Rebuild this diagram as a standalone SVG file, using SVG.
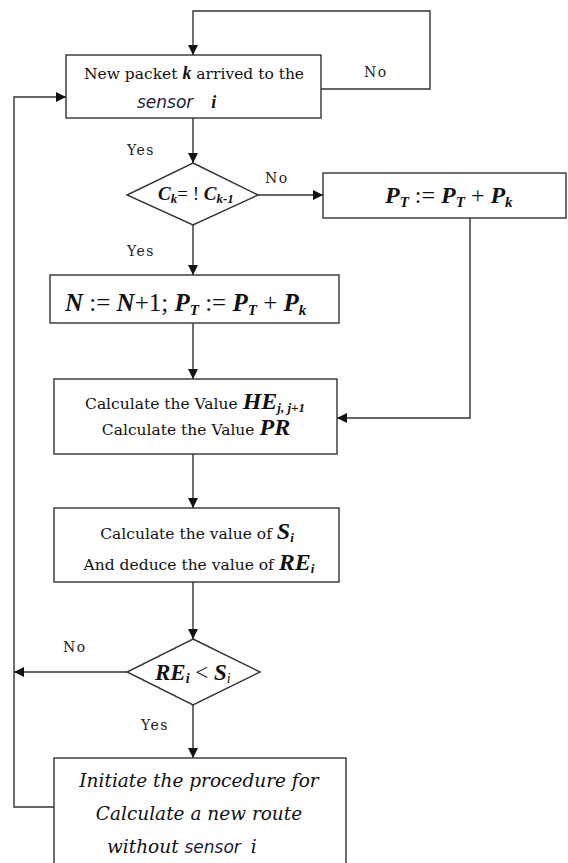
<svg xmlns="http://www.w3.org/2000/svg" width="568" height="863" viewBox="0 0 568 863">
<style>
.box{fill:#fff;stroke:#333;stroke-width:1.4}
.c{fill:none;stroke:#333;stroke-width:1.4;marker-end:url(#ah)}
.t{font-family:"DejaVu Serif","Liberation Serif",serif;font-size:15.5px;fill:#111}
.lab{font-family:"DejaVu Serif","Liberation Serif",serif;font-size:14px;fill:#222;letter-spacing:1.5px}
.m{font-family:"Liberation Serif",serif;font-style:italic;font-weight:bold;fill:#111}
.it{font-family:"DejaVu Serif","Liberation Serif",serif;font-style:italic;font-size:18.5px;fill:#111}
.sn{font-family:"DejaVu Sans",sans-serif;font-style:italic;font-size:17px;fill:#1a1a40}
</style>
<defs>
<marker id="ah" viewBox="0 0 10 10" refX="10" refY="5" markerWidth="10" markerHeight="10" markerUnits="userSpaceOnUse" orient="auto">
<path d="M0,0 L10,5 L0,10 z" fill="#111"/>
</marker>
</defs>
<g id="connectors">
<polyline class="c" points="321,89 430,89 430,11 193,11 193,55"/>
<line class="c" x1="193" y1="118" x2="193" y2="163"/>
<line class="c" x1="258" y1="195" x2="323" y2="195"/>
<line class="c" x1="193" y1="225" x2="193" y2="275"/>
<line class="c" x1="193" y1="323" x2="193" y2="379"/>
<polyline class="c" points="470,218 470,418 337,418"/>
<line class="c" x1="193" y1="454" x2="193" y2="508"/>
<line class="c" x1="193" y1="582" x2="193" y2="639"/>
<line class="c" x1="127" y1="672" x2="14" y2="672"/>
<line class="c" x1="193" y1="705" x2="193" y2="758"/>
<polyline class="c" points="54,807 14,807 14,97 66,97"/>
<text class="lab" x="364" y="77">No</text>
<text class="lab" x="127" y="155">Yes</text>
<text class="lab" x="265" y="183">No</text>
<text class="lab" x="127" y="256">Yes</text>
<text class="lab" x="63" y="652">No</text>
<text class="lab" x="141" y="730">Yes</text>
</g>
<g id="start">
<rect class="box" x="66" y="55" width="255" height="63"/>
<text class="t" x="194" y="79" text-anchor="middle">New packet <tspan class="m" font-size="18">k</tspan> arrived to the</text>
<text x="137" y="108"><tspan class="sn">sensor</tspan><tspan class="m" font-size="18" dx="18">i</tspan></text>
</g>
<g id="cond1">
<polygon class="box" points="193,163 258,195 193,225 127,195"/>
<text class="m" x="158" y="200" font-size="19">C<tspan font-size="13" dy="3">k</tspan><tspan dy="-3" font-weight="normal" font-style="normal">= ! </tspan>C<tspan font-size="13" dy="3">k-1</tspan></text>
</g>
<g id="pt">
<rect class="box" x="323" y="173" width="243" height="45"/>
<text class="m" x="385" y="203" font-size="24">P<tspan font-size="15" dy="4">T</tspan><tspan dy="-4" font-weight="normal" font-style="normal"> := </tspan>P<tspan font-size="15" dy="4">T</tspan><tspan dy="-4" font-weight="normal" font-style="normal"> + </tspan>P<tspan font-size="15" dy="4">k</tspan></text>
</g>
<g id="update">
<rect class="box" x="50" y="275" width="289" height="48"/>
<text class="m" x="65" y="311" font-size="25">N<tspan font-weight="normal" font-style="normal"> :=  </tspan>N<tspan font-weight="normal" font-style="normal">+1; </tspan>P<tspan font-size="15" dy="4">T</tspan><tspan dy="-4" font-weight="normal" font-style="normal"> := </tspan>P<tspan font-size="15" dy="4">T</tspan><tspan dy="-4" font-weight="normal" font-style="normal"> + </tspan>P<tspan font-size="15" dy="4">k</tspan></text>
</g>
<g id="calc">
<rect class="box" x="54" y="379" width="283" height="75"/>
<text class="t" x="195" y="409" text-anchor="middle">Calculate the Value <tspan class="m" font-size="24">HE</tspan><tspan class="m" font-size="13" font-weight="normal" dy="3">j, j+1</tspan></text>
<text class="t" x="196" y="435" text-anchor="middle">Calculate the Value <tspan class="m" font-size="24">PR</tspan></text>
</g>
<g id="values">
<rect class="box" x="54" y="508" width="285" height="74"/>
<text class="t" x="197" y="539" text-anchor="middle">Calculate the value of <tspan class="m" font-size="24">S</tspan><tspan class="m" font-size="13" font-weight="normal" dy="3">i</tspan></text>
<text class="t" x="199" y="570" text-anchor="middle">And deduce the value of  <tspan class="m" font-size="24">RE</tspan><tspan class="m" font-size="13" dy="3">i</tspan></text>
</g>
<g id="cond2">
<polygon class="box" points="193,639 260,672 193,705 127,672"/>
<text class="m" x="155" y="680" font-size="23">RE<tspan font-size="14" dy="3">i</tspan><tspan dy="-3" font-weight="normal" font-style="normal"> &lt; </tspan>S<tspan font-size="14" dy="3" font-weight="normal">i</tspan></text>
</g>
<g id="reroute">
<rect class="box" x="54" y="758" width="292" height="110"/>
<text class="it" x="199" y="787" text-anchor="middle">Initiate the procedure for</text>
<text class="it" x="199" y="820" text-anchor="middle">Calculate a new route</text>
<text x="107" y="853"><tspan class="it">without </tspan><tspan class="sn">sensor</tspan><tspan class="it" dx="10">i</tspan></text>
</g>
</svg>
